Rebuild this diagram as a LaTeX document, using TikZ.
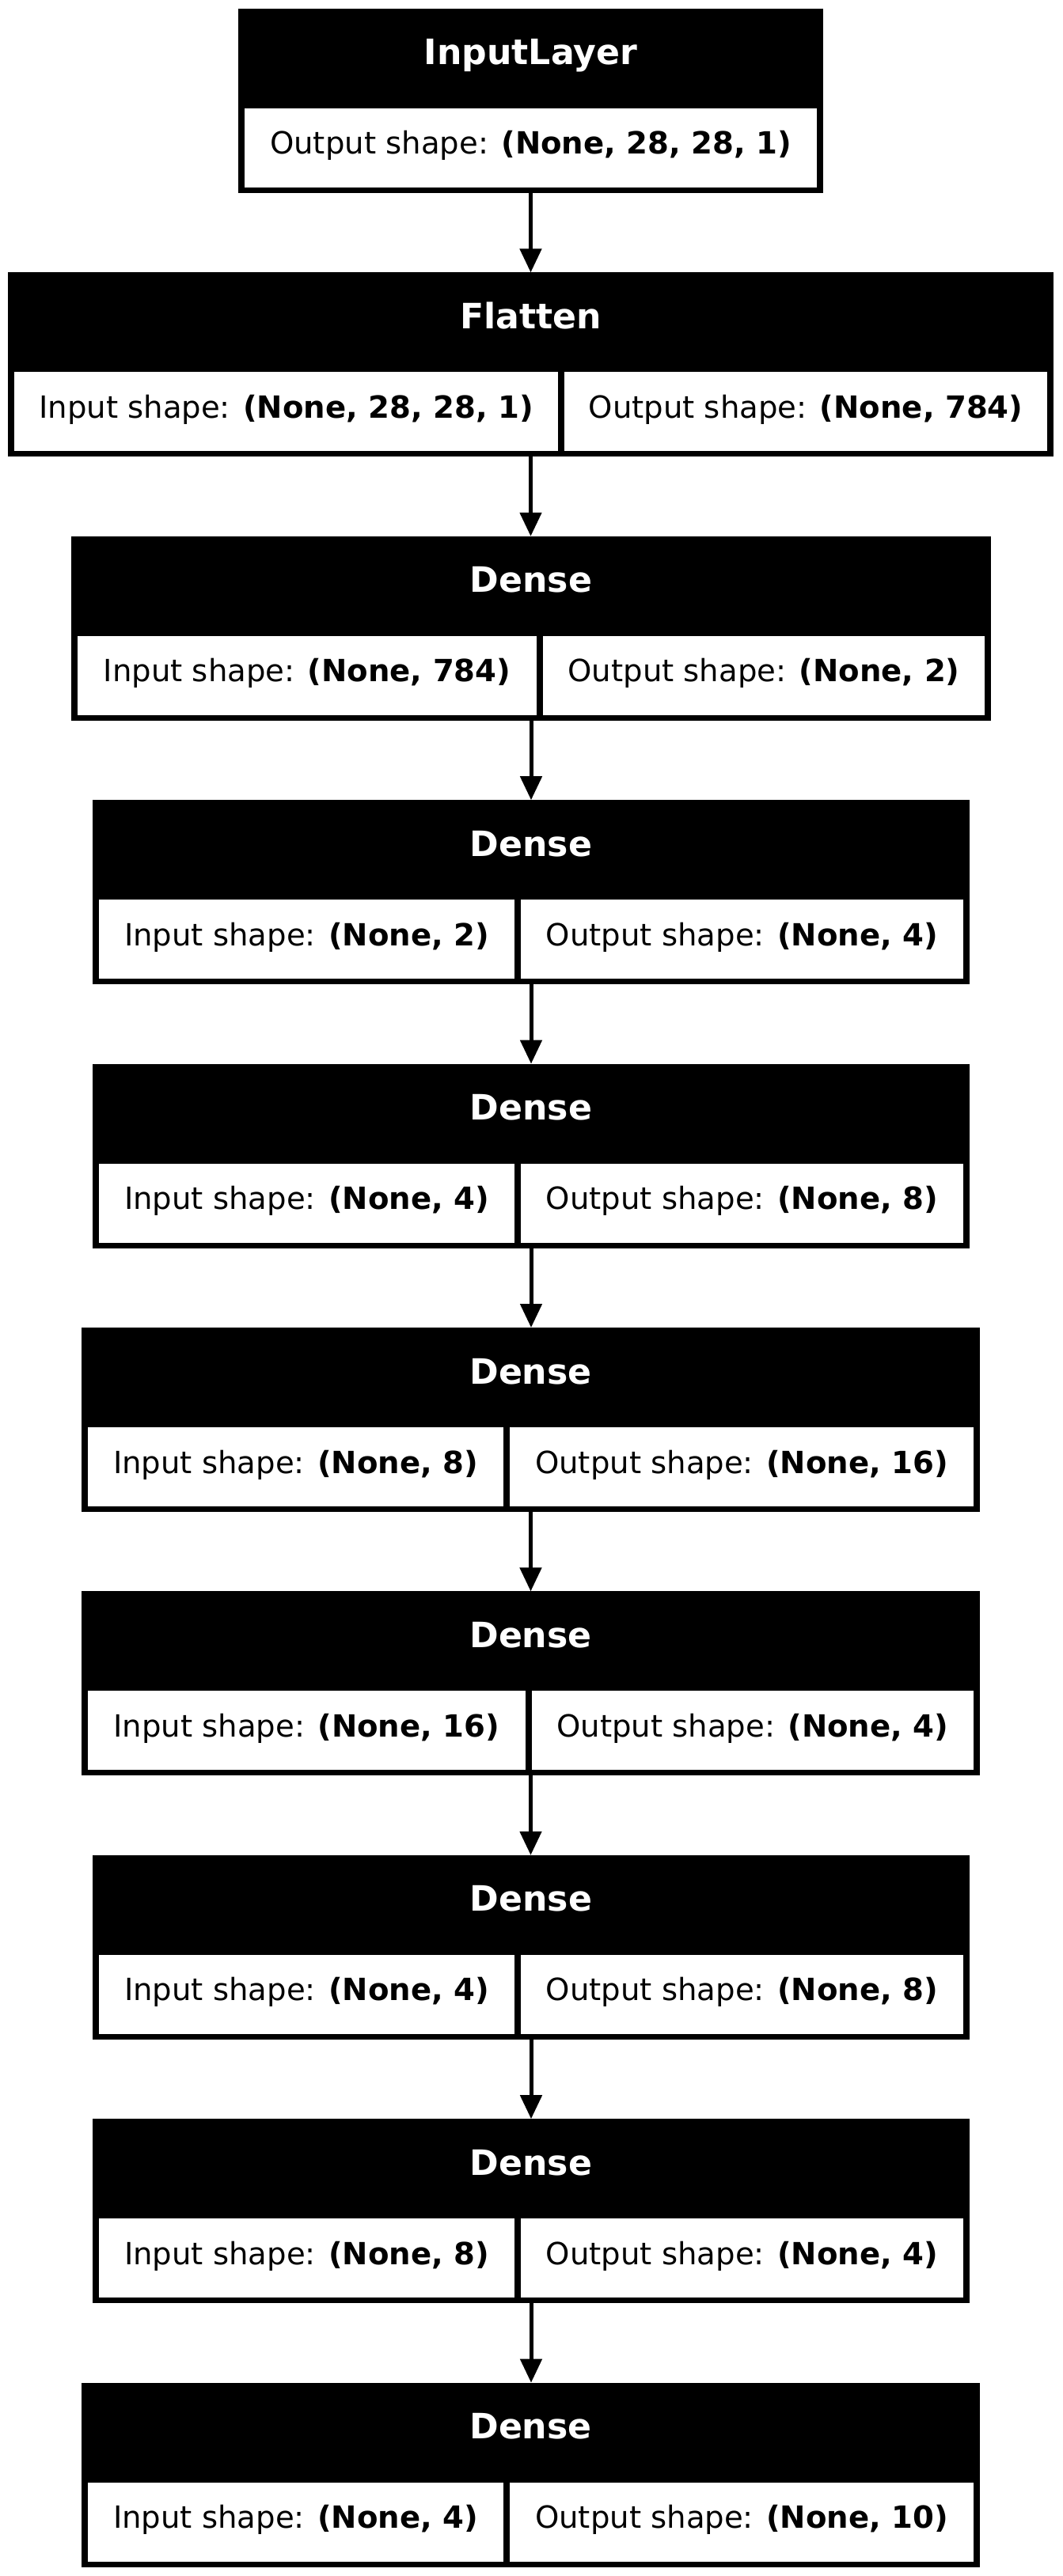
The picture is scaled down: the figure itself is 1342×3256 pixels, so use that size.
\documentclass[tikz,border=0pt]{standalone}
\usepackage{fontspec}
\setmainfont{DejaVu Sans}
\usetikzlibrary{arrows.meta}
\tikzset{
  outerbox/.style={rectangle, fill=black, draw=none, inner sep=0pt, outer sep=0pt},
  cellbox/.style={rectangle, fill=white, draw=none, inner sep=0pt, outer sep=0pt, minimum height=36pt},
  headtext/.style={anchor=base, inner sep=0pt, text=white, font=\fontsize{15.9}{18}\selectfont\bfseries},
  celltext/.style={anchor=base, inner sep=0pt, text=black, font=\fontsize{13.9}{16}\selectfont},
  flowarrow/.style={line width=1.8pt, -{Triangle[length=10.8pt, width=9.7pt]}}
}
% #1 name, #2 top, #3 left, #4 right, #5 divider, #6 header, #7 left text, #8 right text
\newcommand\kbox[8]{%
  \node[outerbox, minimum width={(#4-#3)*0.36pt}, minimum height={233*0.36pt}, anchor=north west] (#1) at (#3,#2) {};
  \node[cellbox, minimum width={(#5-4-#3-8)*0.36pt}, anchor=north west] (#1-in) at (#3+8,#2+126) {};
  \node[cellbox, minimum width={(#4-8-#5-4)*0.36pt}, anchor=north west] (#1-out) at (#5+4,#2+126) {};
  \node[headtext] (#1-title) at ({(#3+#4)/2},#2+71) {#6};
  \node[celltext] (#1-intext) at ({(#3+8+#5-4)/2},#2+184) {#7};
  \node[celltext] (#1-outtext) at ({(#5+4+#4-8)/2},#2+184) {#8};
}
\begin{document}
\begin{tikzpicture}[x=0.36pt, y=-0.36pt]
\fill[white] (0,0) rectangle (1342,3256);
\useasboundingbox (0,0) rectangle (1342,3256);

% InputLayer (single cell)
\node[outerbox, minimum width={(1040-301)*0.36pt}, minimum height={233*0.36pt}, anchor=north west] (b0) at (301,11) {};
\node[cellbox, minimum width={(1040-301-16)*0.36pt}, anchor=north west] (b0-out) at (309,137) {};
\node[headtext] (b0-title) at (670.5,82) {InputLayer};
\node[celltext] (b0-outtext) at (670.5,195) {Output shape: \textbf{(None, 28, 28, 1)}};

\kbox{b1}{344.4}{10}{1331}{709}{Flatten}{Input shape: \textbf{(None, 28, 28, 1)}}{Output shape: \textbf{(None, 784)}}
\kbox{b2}{677.8}{90}{1252}{682}{Dense}{Input shape: \textbf{(None, 784)}}{Output shape: \textbf{(None, 2)}}
\kbox{b3}{1011.2}{117}{1225}{654}{Dense}{Input shape: \textbf{(None, 2)}}{Output shape: \textbf{(None, 4)}}
\kbox{b4}{1344.6}{117}{1225}{654}{Dense}{Input shape: \textbf{(None, 4)}}{Output shape: \textbf{(None, 8)}}
\kbox{b5}{1678}{103}{1238}{640}{Dense}{Input shape: \textbf{(None, 8)}}{Output shape: \textbf{(None, 16)}}
\kbox{b6}{2011.4}{103}{1238}{667.5}{Dense}{Input shape: \textbf{(None, 16)}}{Output shape: \textbf{(None, 4)}}
\kbox{b7}{2344.8}{117}{1225}{654}{Dense}{Input shape: \textbf{(None, 4)}}{Output shape: \textbf{(None, 8)}}
\kbox{b8}{2678.2}{117}{1225}{654}{Dense}{Input shape: \textbf{(None, 8)}}{Output shape: \textbf{(None, 4)}}
\kbox{b9}{3011.6}{103}{1238}{640}{Dense}{Input shape: \textbf{(None, 4)}}{Output shape: \textbf{(None, 10)}}

\foreach \a/\b in {b0/b1,b1/b2,b2/b3,b3/b4,b4/b5,b5/b6,b6/b7,b7/b8,b8/b9}{
  \draw[flowarrow] (\a.south) -- (\a.south |- \b.north);
}
\end{tikzpicture}
\end{document}
